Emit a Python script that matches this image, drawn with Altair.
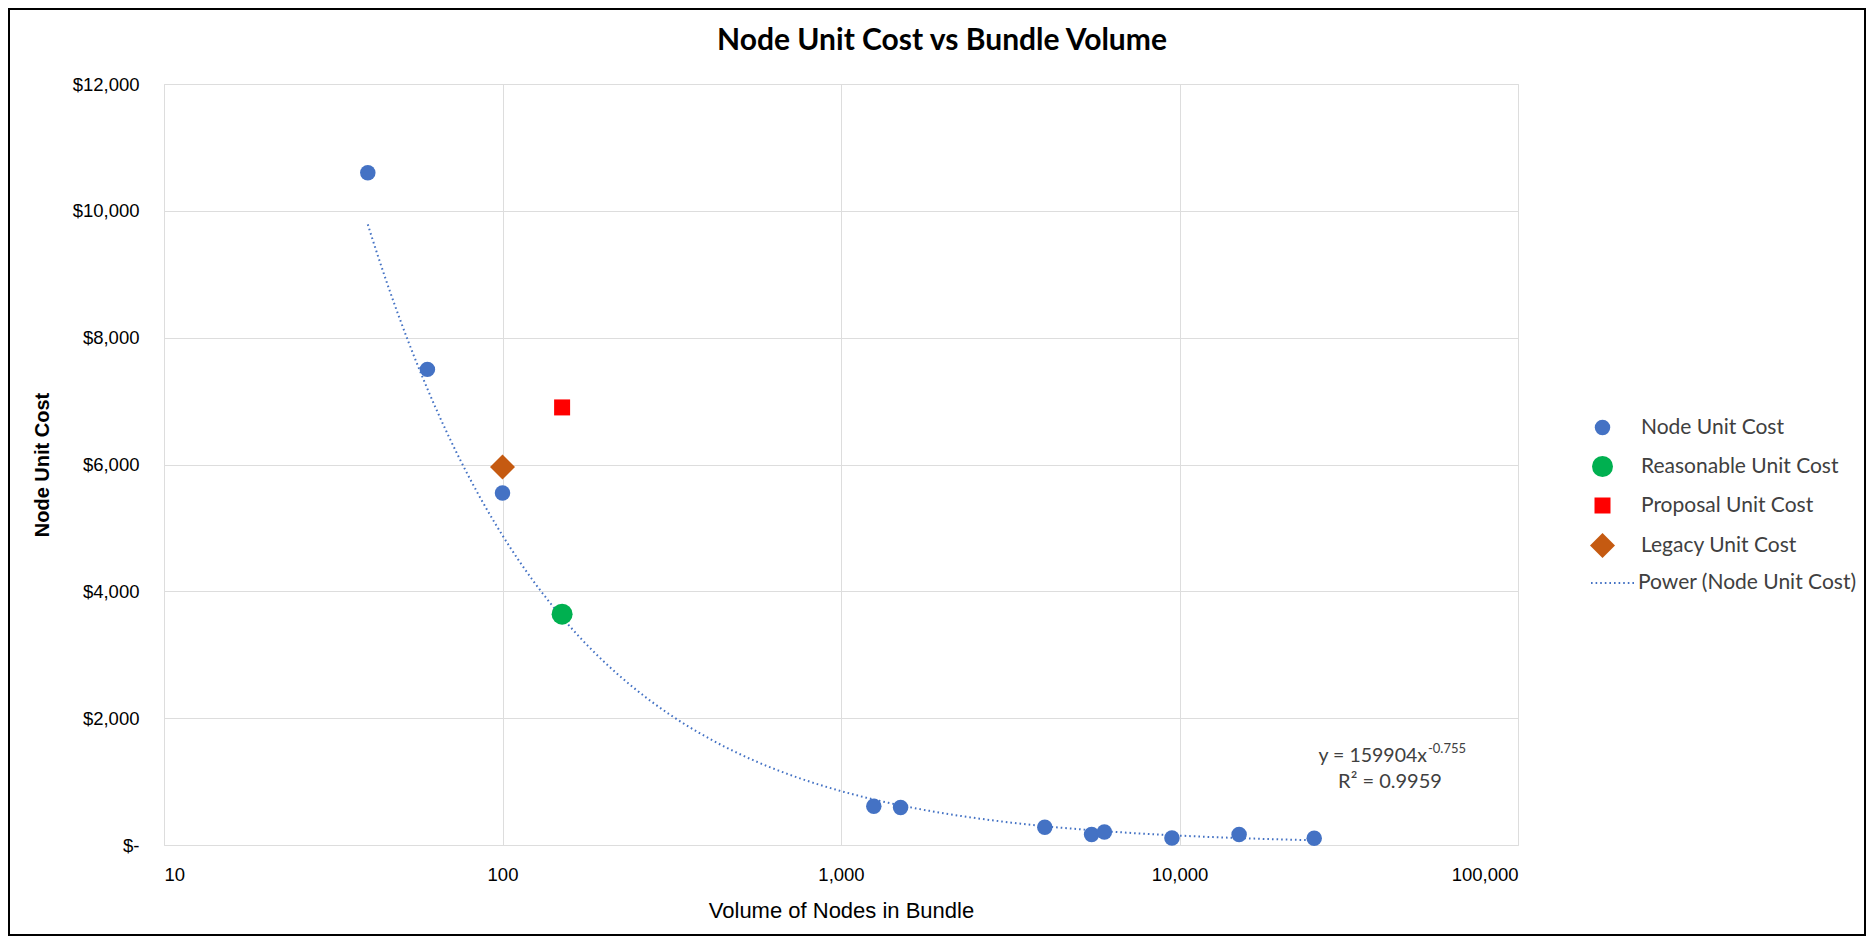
import math
import altair as alt
import pandas as pd

# ---- data ----
node_x = [40, 60, 100, 1250, 1500, 4000, 5500, 6000, 9500, 15000, 25000]
node_y = [10600, 7500, 5550, 610, 590, 280, 165, 205, 110, 165, 105]
reasonable_x = [150]
reasonable_y = [3640]
proposal_x = [150]
proposal_y = [6900]
legacy_x = [100]
legacy_y = [5960]

series_names = ["Node Unit Cost", "Reasonable Unit Cost", "Proposal Unit Cost", "Legacy Unit Cost"]
trend_name = "Power (Node Unit Cost)"
title_text = "Node Unit Cost vs Bundle Volume"
x_title = "Volume of Nodes in Bundle"
y_title = "Node Unit Cost"
x_ticks = [10, 100, 1000, 10000, 100000]
y_ticks = [0, 2000, 4000, 6000, 8000, 10000, 12000]
eq_main = "y = 159904x"
eq_exp = "-0.755"
r2_text = "R² = 0.9959"

# ---- styles ----
series_colors = ["#4472C4", "#00B050", "#FF0000", "#C55A11"]
series_shapes = ["circle", "circle", "square", "diamond"]
series_sizes = [240, 441, 256, 625]
FONT = "Lato"
TXT = "#404040"
W, H = 1354, 761
PAD = {"left": 156, "top": 76, "right": 348, "bottom": 91}

rows = []
for name, xs, ys in [
    (series_names[0], node_x, node_y),
    (series_names[1], reasonable_x, reasonable_y),
    (series_names[2], proposal_x, proposal_y),
    (series_names[3], legacy_x, legacy_y),
]:
    for a, b in zip(xs, ys):
        rows.append({"series": name, "volume": a, "cost": b})
df = pd.DataFrame(rows)

x_enc = alt.X(
    "volume:Q",
    scale=alt.Scale(type="log", domain=[10, 100000], nice=False),
    axis=alt.Axis(
        values=x_ticks, format=",", title=x_title, grid=True, ticks=False, tickSize=0,
        domain=False, labelPadding=29, labelBaseline="middle", labelFontSize=18.5,
        titleY=65, titleBaseline="middle", titleFontWeight="normal", titleFontSize=22,
    ),
)
y_enc = alt.Y(
    "cost:Q",
    scale=alt.Scale(domain=[0, 12000], nice=False),
    axis=alt.Axis(
        values=y_ticks,
        labelExpr="datum.value == 0 ? '$-\u00a0\u00a0' : '$' + format(datum.value, ',')",
        title=y_title, grid=True, ticks=False, tickSize=0, domain=False,
        labelPadding=25, labelFontSize=18.5, labelBaseline="middle",
        titleX=-122, titleY=H / 2, titleAngle=270, titleAlign="center", titleBaseline="middle",
        titleFontWeight="bold", titleFontSize=20,
    ),
)

legend_common = dict(
    orient="none", legendX=1426, legendY=333, title=None, padding=0,
    labelFont=FONT, labelFontSize=21, labelColor=TXT, labelLimit=0, symbolSize=225,
    rowPadding=17, labelOffset=26, symbolStrokeWidth=0,
)

points = alt.Chart(df).mark_point(filled=True, opacity=1, strokeWidth=0).encode(
    x=x_enc,
    y=y_enc,
    color=alt.Color("series:N", scale=alt.Scale(domain=series_names, range=series_colors),
                    legend=alt.Legend(**legend_common)),
    shape=alt.Shape("series:N", scale=alt.Scale(domain=series_names, range=series_shapes),
                    legend=alt.Legend(**legend_common)),
    size=alt.Size("series:N", scale=alt.Scale(type="ordinal", domain=series_names, range=series_sizes),
                  legend=None),
)

# power-law fit computed by Vega's regression transform, sampled densely in log space
lo = math.log10(min(node_x))
hi = math.log10(max(node_x))
step = (hi - lo) / 300
trend = (
    alt.Chart(df)
    .transform_filter(alt.datum.series == series_names[0])
    .transform_regression("volume", "cost", method="pow", params=True)
    .transform_calculate(lx=f"sequence({lo}, {hi + step / 2}, {step})")
    .transform_flatten(["lx"])
    .transform_calculate(volume="pow(10, datum.lx)")
    .transform_calculate(cost="datum.coef[0] * pow(datum.volume, datum.coef[1])")
    .transform_calculate(trend=f"'{trend_name}'")
    .mark_line(strokeWidth=2, color="#4472C4")
    .encode(
        x="volume:Q",
        y="cost:Q",
        order="lx:Q",
        strokeDash=alt.StrokeDash(
            "trend:N",
            scale=alt.Scale(domain=[trend_name], range=[[1.6, 3]]),
            legend=alt.Legend(
                orient="none", legendX=1426, legendY=476, title=None, padding=0,
                labelFont=FONT, labelFontSize=21, labelColor=TXT, labelLimit=0, symbolType="stroke",
                symbolSize=1936, symbolStrokeColor="#4472C4", symbolStrokeWidth=2, labelOffset=2,
            ),
        ),
    )
)

one = pd.DataFrame({"k": [0]})
title_mark = alt.Chart(one).mark_text(
    font=FONT, fontSize=30, fontWeight="bold", color="#000000", align="center", baseline="alphabetic"
).encode(x=alt.value(778), y=alt.value(-34), text=alt.value(title_text))

eq1 = alt.Chart(one).mark_text(
    font=FONT, fontSize=19.5, color=TXT, align="right", baseline="alphabetic"
).encode(x=alt.value(1263), y=alt.value(678), text=alt.value(eq_main))
eq2 = alt.Chart(one).mark_text(
    font=FONT, fontSize=13, color=TXT, align="left", baseline="alphabetic"
).encode(x=alt.value(1264), y=alt.value(669), text=alt.value(eq_exp))
eq3 = alt.Chart(one).mark_text(
    font=FONT, fontSize=20, color=TXT, align="center", baseline="alphabetic"
).encode(x=alt.value(1226), y=alt.value(704), text=alt.value(r2_text))

frame = alt.Chart(one).mark_rect(filled=False, stroke="#000000", strokeWidth=2).encode(
    x=alt.value(-PAD["left"] + 1), x2=alt.value(W + PAD["right"] - 1),
    y=alt.value(-PAD["top"] + 1), y2=alt.value(H + PAD["bottom"] - 1),
)

chart = (
    alt.layer(trend, points, title_mark, eq1, eq2, eq3, frame)
    .properties(width=W, height=H, padding=PAD, autosize=alt.AutoSizeParams(type="none"))
    .configure_view(stroke="#000000", strokeWidth=2)
    .configure_axis(
        labelFont=FONT, titleFont=FONT, labelColor=TXT, titleColor=TXT,
        gridColor="#D9D9D9", gridWidth=1.5,
    )
    .configure(background="white")
)

chart.save("out.html", embed_options={"renderer": "svg", "actions": False})
